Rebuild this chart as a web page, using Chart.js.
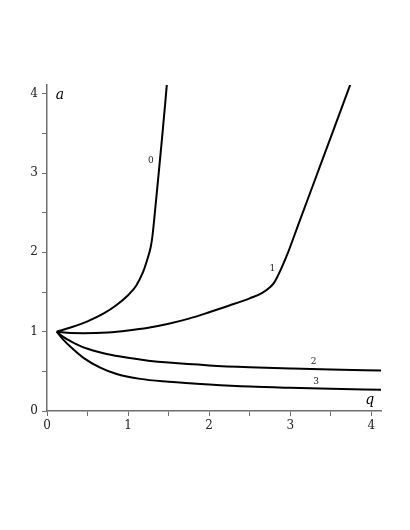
<!DOCTYPE html>
<html>
<head>
<meta charset="utf-8">
<script src="https://cdn.jsdelivr.net/npm/chart.js@4"></script>
<style>
  html, body { margin: 0; padding: 0; background: #fff; }
  canvas { display: block; }
</style>
</head>
<body>
<canvas id="chart" width="410" height="530"></canvas>
<script>
// Curve data: q on the x axis, a on the y axis.
const q0 = [0.12, 0.3, 0.5, 0.7, 0.85, 1.0, 1.1, 1.18, 1.24, 1.28, 1.3, 1.34, 1.38, 1.42, 1.46, 1.485];
const a0 = [1.0, 1.055, 1.13, 1.23, 1.33, 1.46, 1.58, 1.74, 1.92, 2.07, 2.2, 2.6, 3.02, 3.45, 3.9, 4.2];

const q1 = [0.12, 0.25, 0.45, 0.75, 1.0, 1.25, 1.5, 1.75, 2.0, 2.25, 2.5, 2.65, 2.75, 2.8, 2.85, 2.9, 2.97, 3.1, 3.3, 3.5, 3.75];
const a1 = [1.0, 0.985, 0.98, 0.99, 1.015, 1.05, 1.1, 1.165, 1.245, 1.33, 1.42, 1.485, 1.56, 1.615, 1.71, 1.82, 1.99, 2.35, 2.9, 3.45, 4.14];

const q2 = [0.12, 0.2, 0.3, 0.4, 0.5, 0.65, 0.8, 1.0, 1.25, 1.5, 2.0, 2.5, 3.0, 3.5, 4.12];
const a2 = [1.0, 0.935, 0.875, 0.825, 0.785, 0.74, 0.705, 0.67, 0.635, 0.61, 0.575, 0.552, 0.536, 0.522, 0.51];

const q3 = [0.12, 0.2, 0.3, 0.45, 0.65, 0.85, 1.15, 1.5, 2.0, 2.5, 3.0, 3.5, 4.12];
const a3 = [1.0, 0.9, 0.8, 0.67, 0.55, 0.47, 0.405, 0.37, 0.335, 0.308, 0.292, 0.28, 0.268];

// Small labels next to each curve (in data units).
const curveNames = ['0', '1', '2', '3'];
const labelQ = [1.28, 2.78, 3.29, 3.32];
const labelA = [3.15, 1.79, 0.62, 0.37];

const xMax = 4.12;
const yMax = 4.11;

const toPoints = (xs, ys) => xs.map((x, i) => ({ x: x, y: ys[i] }));

const curve = (xs, ys) => ({
  data: toPoints(xs, ys),
  showLine: true,
  borderColor: '#000',
  borderWidth: 2,
  pointRadius: 0,
  cubicInterpolationMode: 'monotone',
  fill: false
});

// Draws the curve numbers and the axis names "a" and "q".
const textPlugin = {
  id: 'curveText',
  afterDatasetsDraw(chart) {
    const ctx = chart.ctx;
    const xs = chart.scales.x;
    const ys = chart.scales.y;
    ctx.save();
    ctx.fillStyle = '#222';
    ctx.textAlign = 'center';
    ctx.textBaseline = 'middle';
    ctx.font = '9px "DejaVu Serif"';
    curveNames.forEach((name, i) => {
      ctx.fillText(name, xs.getPixelForValue(labelQ[i]), ys.getPixelForValue(labelA[i]));
    });
    ctx.font = 'italic 14px "DejaVu Serif"';
    ctx.fillStyle = '#000';
    ctx.fillText('a', xs.getPixelForValue(0.16), ys.getPixelForValue(3.98));
    ctx.fillText('q', xs.getPixelForValue(3.98), ys.getPixelForValue(0.13));
    ctx.restore();
  }
};

const axisStyle = {
  border: { display: true, color: '#6e6e6e', width: 1.5 },
  grid: { drawOnChartArea: false, drawTicks: true, tickLength: 5, color: '#6e6e6e', lineWidth: 1 },
};

new Chart(document.getElementById('chart'), {
  type: 'scatter',
  data: {
    datasets: [curve(q0, a0), curve(q1, a1), curve(q2, a2), curve(q3, a3)]
  },
  options: {
    responsive: false,
    animation: false,
    layout: { padding: { left: 17, right: 29, top: 85, bottom: 89 } },
    plugins: { legend: { display: false }, tooltip: { enabled: false } },
    scales: {
      x: {
        type: 'linear',
        min: 0,
        max: xMax,
        ...axisStyle,
        ticks: {
          stepSize: 0.5,
          includeBounds: false,
          maxRotation: 0,
          autoSkip: false,
          padding: 3,
          color: '#222',
          font: { family: 'DejaVu Serif', size: 12 },
          callback: v => (Number.isInteger(v) ? String(v) : '')
        },
        afterFit: s => { s.height = 30; }
      },
      y: {
        type: 'linear',
        min: 0,
        max: yMax,
        ...axisStyle,
        ticks: {
          stepSize: 0.5,
          includeBounds: false,
          autoSkip: false,
          padding: 4,
          color: '#222',
          font: { family: 'DejaVu Serif', size: 12 },
          callback: v => (Number.isInteger(v) ? String(v) : '')
        },
        afterFit: s => { s.width = 30; }
      }
    }
  },
  plugins: [textPlugin]
});
</script>
</body>
</html>
